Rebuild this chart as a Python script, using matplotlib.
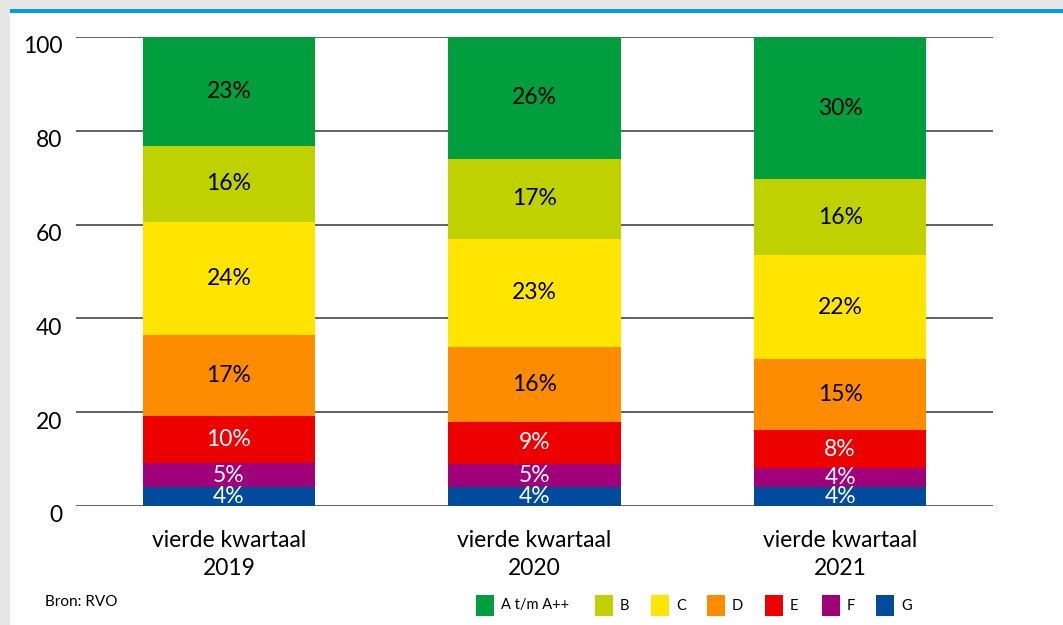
import matplotlib
matplotlib.use('Agg')
import matplotlib.pyplot as plt
from matplotlib.patches import Rectangle
from matplotlib.transforms import ScaledTranslation
import numpy as np

plt.rcParams['font.family'] = ['Lato', 'DejaVu Sans']

# Energy label shares per period (percent, as published)
periods = ['vierde kwartaal\n2019', 'vierde kwartaal\n2020', 'vierde kwartaal\n2021']
labels = ['G', 'F', 'E', 'D', 'C', 'B', 'A t/m A++']
share_g = [4, 4, 4]
share_f = [5, 5, 4]
share_e = [10, 9, 8]
share_d = [17, 16, 15]
share_c = [24, 23, 22]
share_b = [16, 17, 16]
share_a = [23, 26, 30]
colors = ['#004B9B', '#A1007B', '#EC0000', '#FF8C00', '#FFE500', '#BFD200', '#009E3D']
text_colors = ['white', 'white', 'white', 'black', 'black', 'black', 'black']

series = np.array([share_g, share_f, share_e, share_d, share_c, share_b, share_a], dtype=float)
# stack scaled to 100 per period
scaled = series / series.sum(axis=0) * 100

W, H = 1063, 625
fig = plt.figure(figsize=(W / 100, H / 100), dpi=100, facecolor='#E6E6E6')

# white panel with blue top rule
fig.patches.append(Rectangle((10 / W, 0), 1 - 10 / W, 1 - 13 / H, transform=fig.transFigure,
                             facecolor='white', edgecolor='none', zorder=-10))
fig.patches.append(Rectangle((10 / W, 1 - 13 / H), 1 - 10 / W, 4 / H, transform=fig.transFigure,
                             facecolor='#009FE3', edgecolor='none', zorder=-10))

ax = fig.add_axes([76 / W, 1 - 506 / H, (993 - 76) / W, (506 - 37) / H])
ax.set_facecolor('none')

x = np.arange(len(periods))
bottom = np.zeros(len(periods))
for vals, raw, col, tcol in zip(scaled, series, colors, text_colors):
    ax.bar(x, vals, width=0.563, bottom=bottom, color=col, zorder=3)
    for xi, b, v, r in zip(x, bottom, vals, raw):
        ax.text(xi, b + v / 2, f'{int(r)}%', ha='center', va='center',
                fontsize=16.5, color=tcol, zorder=4)
    bottom += vals

ax.set_xlim(-0.5, 2.5)
ax.set_ylim(0, 100)
ax.set_yticks([0, 20, 40, 60, 80, 100])
ax.yaxis.grid(True, color='#555555', linewidth=1.3, zorder=1)
for s in ax.spines.values():
    s.set_visible(False)
ax.tick_params(axis='y', length=0, pad=10, labelsize=16.5)
ax.tick_params(axis='x', length=0, pad=17, labelsize=16.5)
ax.set_xticks(x)
ax.set_xticklabels(periods, linespacing=1.45)
for lab in ax.get_yticklabels():
    lab.set_transform(lab.get_transform() + ScaledTranslation(0, -8 / 100, fig.dpi_scale_trans))

fig.text(45 / W, 1 - 602 / H, 'Bron: RVO', fontsize=11, va='center', ha='left')

# legend row
legend_x = [476, 595, 651, 707, 765, 822, 876]
legend_labels = labels[::-1]
legend_colors = colors[::-1]
for lx, lab, col in zip(legend_x, legend_labels, legend_colors):
    fig.patches.append(Rectangle((lx / W, 1 - 616 / H), 18 / W, 21 / H, transform=fig.transFigure,
                                 facecolor=col, edgecolor='none'))
    fig.text((lx + 25) / W, 1 - 605.5 / H, lab, fontsize=10.5, va='center', ha='left')

fig.savefig('out.png', dpi=100, facecolor=fig.get_facecolor())
